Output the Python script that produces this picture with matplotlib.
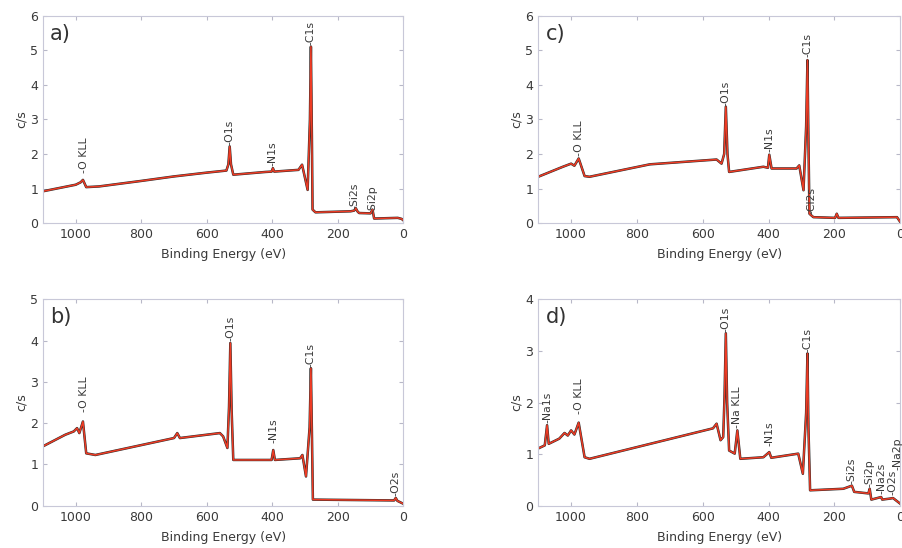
import numpy as np
import matplotlib
matplotlib.use('Agg')
from matplotlib import pyplot as plt

a_ev = [1100, 1000, 985, 978, 968, 929, 800, 700, 600, 540, 534, 530, 526, 519, 420, 402, 398, 394, 320, 309, 292, 285, 282, 279, 277, 268, 161, 150, 145, 140, 135, 100, 94, 89, 17, 5, 0]
a_cps = [0.92, 1.11, 1.18, 1.25, 1.04, 1.06, 1.22, 1.35, 1.46, 1.52, 1.7, 2.22, 1.7, 1.40, 1.48, 1.49, 1.59, 1.49, 1.54, 1.69, 0.96, 3.0, 5.11, 2.5, 0.39, 0.31, 0.34, 0.36, 0.43, 0.34, 0.29, 0.28, 0.39, 0.13, 0.15, 0.12, 0.08]
a_peaks = ['-O KLL', '-O1s', '-N1s', '-C1s', '-Si2s', '-Si2p']
a_peak_ev = [975, 530, 398, 282, 150, 95]
a_peak_y = [1.45, 2.25, 1.64, 5.15, 0.4, 0.3]

c_ev = [1100, 1025, 1000, 990, 977, 959, 944, 761, 558, 543, 535, 530, 525, 520, 416, 402, 398, 391, 315, 307, 294, 286, 282, 279, 276, 264, 198, 193, 188, 10, 0]
c_cps = [1.34, 1.63, 1.72, 1.66, 1.87, 1.36, 1.34, 1.70, 1.84, 1.72, 2.0, 3.37, 2.0, 1.48, 1.63, 1.6, 1.98, 1.58, 1.58, 1.67, 0.95, 2.8, 4.72, 2.4, 0.27, 0.17, 0.15, 0.27, 0.15, 0.17, 0.03]
c_peaks = ['-O KLL', '-O1s', '-N1s', '-C1s', '-Cl2s']
c_peak_ev = [977, 530, 398, 282, 271]
c_peak_y = [1.95, 3.4, 2.05, 4.8, 0.27]

b_ev = [1100, 1032, 1006, 996, 989, 978, 968, 940, 700, 690, 682, 560, 550, 537, 532, 528, 524, 519, 402, 397, 392, 315, 308, 297, 286, 282, 279, 276, 28, 23, 18, 0]
b_cps = [1.44, 1.72, 1.80, 1.88, 1.76, 2.04, 1.27, 1.23, 1.64, 1.76, 1.64, 1.76, 1.68, 1.40, 2.4, 3.94, 2.3, 1.11, 1.11, 1.35, 1.11, 1.15, 1.23, 0.71, 1.9, 3.33, 1.8, 0.15, 0.13, 0.19, 0.12, 0.05]
b_peaks = ['-O KLL', '-O1s', '-N1s', '-C1s', '-O2s']
b_peak_ev = [975, 528, 397, 282, 23]
b_peak_y = [2.28, 3.98, 1.52, 3.37, 0.23]

d_ev = [1100, 1080, 1073, 1068, 1036, 1020, 1010, 1000, 990, 977, 959, 944, 569, 558, 546, 538, 534, 530, 526, 520, 503, 495, 486, 416, 398, 392, 310, 296, 286, 282, 279, 274, 173, 147, 140, 97, 93, 88, 58, 55, 31, 22, 12, 0]
d_cps = [1.11, 1.17, 1.56, 1.20, 1.30, 1.41, 1.36, 1.46, 1.38, 1.61, 0.94, 0.91, 1.50, 1.59, 1.27, 1.33, 2.1, 3.34, 2.0, 1.07, 1.01, 1.46, 0.91, 0.94, 1.04, 0.93, 1.01, 0.62, 1.8, 2.95, 1.5, 0.30, 0.33, 0.39, 0.27, 0.24, 0.33, 0.12, 0.17, 0.12, 0.14, 0.15, 0.1, 0.04]
d_peaks = ['-Na1s', '-O KLL', '-O1s', '-Na KLL', '-N1s', '-C1s', '-Si2s', '-Si2p', '-Na2s', '-O2s', '-Na2p']
d_peak_ev = [1073, 977, 530, 495, 398, 282, 148, 93, 58, 24, 10]
d_peak_y = [1.6, 1.78, 3.37, 1.5, 1.15, 2.98, 0.42, 0.36, 0.23, 0.2, 0.7]

panels = [
    ('a)', a_ev, a_cps, a_peaks, a_peak_ev, a_peak_y, 6, [0.0476, 0.593, 0.399, 0.378]),
    ('c)', c_ev, c_cps, c_peaks, c_peak_ev, c_peak_y, 6, [0.596, 0.593, 0.401, 0.378]),
    ('b)', b_ev, b_cps, b_peaks, b_peak_ev, b_peak_y, 5, [0.0476, 0.077, 0.399, 0.377]),
    ('d)', d_ev, d_cps, d_peaks, d_peak_ev, d_peak_y, 4, [0.596, 0.077, 0.401, 0.377]),
]

fig = plt.figure(figsize=(9.03, 5.48), dpi=100)
txt = '#3a3a3a'
for letter, ev, cps, peaks, pev, py, ymax, rect in panels:
    ax = fig.add_axes(rect)
    ax.plot(ev, cps, color='#2b2b2b', lw=1.8)
    ax.plot(ev, cps, color='#ee3b24', lw=1.1)
    for name, x, y in zip(peaks, pev, py):
        ax.text(x, y, name, rotation=90, ha='center', va='bottom', fontsize=7.8, color=txt)
    ax.set_xlim(1100, 0)
    ax.set_ylim(0, ymax)
    ax.set_xticks([1000, 800, 600, 400, 200, 0])
    ax.set_yticks(range(ymax + 1))
    ax.tick_params(direction='in', length=3, top=True, right=True, labelsize=9,
                   colors='#b8b8c8', labelcolor=txt)
    for s in ax.spines.values():
        s.set_color('#c8c8d8')
        s.set_linewidth(0.8)
    ax.set_xlabel('Binding Energy (eV)', fontsize=9, color=txt, labelpad=5)
    ax.set_ylabel('c/s', fontsize=9, color=txt, labelpad=2)
    ax.text(0.02, 0.96, letter, transform=ax.transAxes, va='top', ha='left', fontsize=15, color='#333333')

plt.savefig('out.png', dpi=100)
plt.close()
